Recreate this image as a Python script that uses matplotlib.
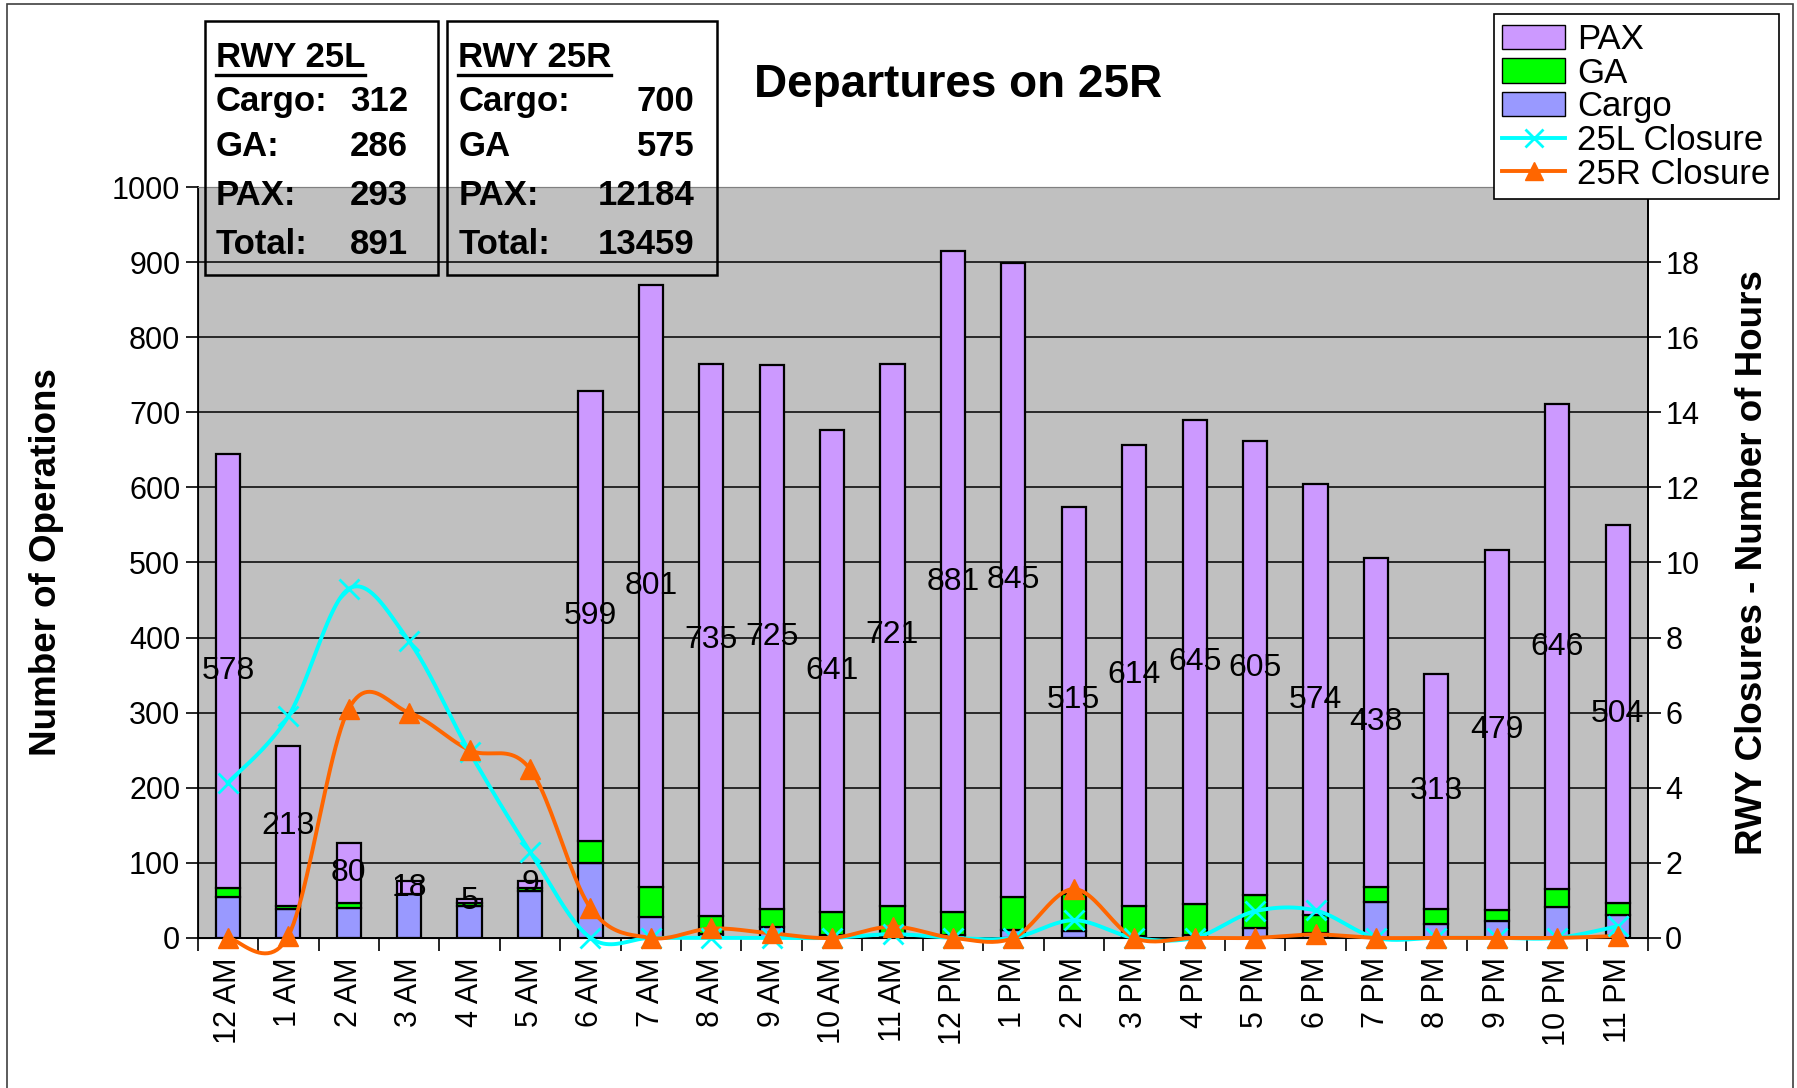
import numpy as np
import matplotlib
matplotlib.use("Agg")
import matplotlib.pyplot as plt
from matplotlib.patches import Rectangle
from matplotlib.lines import Line2D

plt.rcParams['font.family'] = ['Liberation Sans', 'DejaVu Sans']

hours = ['12 AM', '1 AM', '2 AM', '3 AM', '4 AM', '5 AM', '6 AM', '7 AM', '8 AM', '9 AM',
         '10 AM', '11 AM', '12 PM', '1 PM', '2 PM', '3 PM', '4 PM', '5 PM', '6 PM', '7 PM',
         '8 PM', '9 PM', '10 PM', '11 PM']
cargo = [55, 38, 40, 58, 42, 63, 100, 28, 5, 15, 4, 3, 4, 11, 9, 3, 4, 13, 7, 48, 18, 23, 41, 30]
ga = [11, 5, 7, 0, 5, 4, 29, 40, 24, 23, 31, 40, 30, 43, 50, 40, 41, 44, 23, 20, 21, 14, 24, 16]
pax = [578, 213, 80, 18, 5, 9, 599, 801, 735, 725, 641, 721, 881, 845, 515, 614, 645, 605,
       574, 438, 313, 479, 646, 504]
close_25l = [4.13, 5.9, 9.3, 7.9, 4.95, 2.3, 0, 0, 0, 0, 0, 0.1, 0, 0, 0.47, 0, 0, 0.71,
             0.73, 0, 0, 0, 0, 0.31]
close_25r = [0, 0.05, 6.1, 6.0, 5.0, 4.5, 0.8, 0, 0.25, 0.12, 0, 0.3, 0, 0, 1.3, 0, 0, 0,
             0.09, 0, 0, 0, 0, 0.05]

box_25l = [('Cargo:', '312'), ('GA:', '286'), ('PAX:', '293'), ('Total:', '891')]
box_25r = [('Cargo:', '700'), ('GA', '575'), ('PAX:', '12184'), ('Total:', '13459')]


def smooth(y, steps=24):
    # Excel style smoothed line (bezier, control points at 1/6 of neighbour slope)
    p = np.column_stack([np.arange(len(y)), np.asarray(y, float)])
    p = np.vstack([p[0], p, p[-1]])
    out = []
    t = np.linspace(0, 1, steps)[:, None]
    for i in range(1, len(p) - 2):
        p0, p1, p2, p3 = p[i - 1], p[i], p[i + 1], p[i + 2]
        c1 = p1 + (p2 - p0) / 6
        c2 = p2 - (p3 - p1) / 6
        seg = ((1 - t) ** 3) * p1 + 3 * ((1 - t) ** 2) * t * c1 + 3 * (1 - t) * t ** 2 * c2 + t ** 3 * p2
        out.append(seg if i == 1 else seg[1:])
    out = np.vstack(out)
    return out[:, 0], out[:, 1]


fig = plt.figure(figsize=(17.97, 10.88), dpi=100)
ax = fig.add_axes([0.110, 0.138, 0.807, 0.690])
ax.set_facecolor('#C0C0C0')

x = np.arange(len(hours))
cargo = np.array(cargo)
ga = np.array(ga)
pax = np.array(pax)
w = 0.4
ax.bar(x, cargo, w, color='#9999FF', edgecolor='black', lw=1.6, zorder=2)
ax.bar(x, ga, w, bottom=cargo, color='#00FF00', edgecolor='black', lw=1.6, zorder=2)
ax.bar(x, pax, w, bottom=cargo + ga, color='#CC99FF', edgecolor='black', lw=1.6, zorder=2)
for i in range(len(x)):
    ax.text(x[i], cargo[i] + ga[i] + pax[i] / 2, str(pax[i]), ha='center', va='center',
            fontsize=23, zorder=3)

ax.set_xlim(-0.5, len(hours) - 0.5)
ax.set_ylim(0, 1000)
ax.set_yticks(range(0, 1001, 100))
ax.yaxis.grid(True, color='black', lw=1.1)
ax.set_axisbelow(True)
ax.set_xticks(x)
ax.set_xticklabels(hours, rotation=90, fontsize=22)
ax.set_xticks(np.arange(-0.5, len(hours), 1), minor=True)
ax.tick_params(axis='x', which='major', length=0, pad=14)
ax.tick_params(axis='x', which='minor', length=9, width=1.2, direction='out')
ax.tick_params(axis='y', labelsize=22, length=9, width=1.2, direction='out')
ax.set_ylabel('Number of Operations', fontsize=26.5, fontweight='bold')
ax.yaxis.set_label_coords(-0.092, 0.5)
ax.spines['top'].set_color('#808080')
for s in ['left', 'bottom', 'right']:
    ax.spines[s].set_linewidth(1.3)

ax2 = ax.twinx()
ax2.set_ylim(0, 20)
ax2.set_yticks(range(0, 19, 2))
ax2.tick_params(axis='y', labelsize=22, length=9, width=1.2, direction='out')
ax2.set_ylabel('RWY Closures - Number of Hours', fontsize=26.5, fontweight='bold')
ax2.yaxis.set_label_coords(1.06, 0.5)
ax2.spines['right'].set_linewidth(1.3)
ax2.spines['top'].set_color('#808080')

sx, sy = smooth(close_25l)
ax2.plot(sx, sy, color='#00FFFF', lw=2.8, clip_on=False, zorder=4)
ax2.plot(x, close_25l, ls='none', marker='x', ms=15, mew=2, color='#00FFFF', clip_on=False, zorder=5)
sx, sy = smooth(close_25r)
ax2.plot(sx, sy, color='#FF6600', lw=2.8, clip_on=False, zorder=4)
ax2.plot(x, close_25r, ls='none', marker='^', ms=14, color='#FF6600', clip_on=False, zorder=5)

fig.text(0.533, 0.922, 'Departures on 25R', ha='center', va='center', fontsize=33,
         fontweight='bold')

# summary boxes
boxes = [(0.114, 0.244, 'RWY 25L', box_25l, 0.120, 0.227),
         (0.249, 0.399, 'RWY 25R', box_25r, 0.255, 0.3865)]
rows_y = [0.907, 0.865, 0.820, 0.775]
fig.canvas.draw()
for x0, x1, head, rows, lx, rx in boxes:
    fig.add_artist(Rectangle((x0, 0.747), x1 - x0, 0.234, transform=fig.transFigure,
                             fill=False, edgecolor='black', lw=1.8))
    t = fig.text(lx, 0.947, head, ha='left', va='center', fontsize=25, fontweight='bold')
    bb = t.get_window_extent(fig.canvas.get_renderer()).transformed(fig.transFigure.inverted())
    fig.add_artist(Line2D([bb.x0, bb.x1], [bb.y0 - 0.001, bb.y0 - 0.001], transform=fig.transFigure,
                          color='black', lw=2.4))
    for (lab, val), yy in zip(rows, rows_y):
        fig.text(lx, yy, lab, ha='left', va='center', fontsize=25, fontweight='bold')
        fig.text(rx, yy, val, ha='right', va='center', fontsize=25, fontweight='bold')

handles = [Rectangle((0, 0), 1, 1, fc='#CC99FF', ec='black'),
           Rectangle((0, 0), 1, 1, fc='#00FF00', ec='black'),
           Rectangle((0, 0), 1, 1, fc='#9999FF', ec='black'),
           Line2D([], [], color='#00FFFF', lw=2.8, marker='x', ms=13, mew=2),
           Line2D([], [], color='#FF6600', lw=2.8, marker='^', ms=13)]
leg = fig.legend(handles, ['PAX', 'GA', 'Cargo', '25L Closure', '25R Closure'],
                 loc='upper right', bbox_to_anchor=(0.990, 0.987), fontsize=25,
                 frameon=True, fancybox=False, edgecolor='black', framealpha=1,
                 handlelength=1.8, handleheight=0.7, labelspacing=0.02, borderpad=0.25,
                 handletextpad=0.35, borderaxespad=0)
leg.get_frame().set_linewidth(1.2)

fig.add_artist(Rectangle((0.004, -0.01), 0.994, 1.006, transform=fig.transFigure,
                         fill=False, edgecolor='#404040', lw=1.2))

fig.savefig('out.png', dpi=100)
